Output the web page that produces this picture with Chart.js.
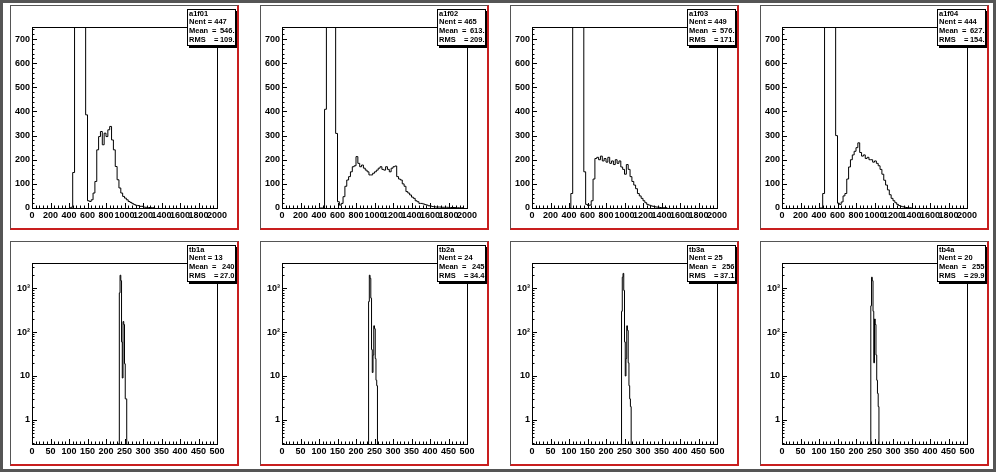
<!DOCTYPE html>
<html>
<head>
<meta charset="utf-8">
<script src="https://cdn.jsdelivr.net/npm/chart.js@4.4.1/dist/chart.umd.min.js"></script>
<style>
  html, body { margin: 0; padding: 0; background: #fff; }
  #outer { position: absolute; left: 0; top: 0; width: 996px; height: 472px; box-sizing: border-box; border: 3px solid #555; }
  .pad { position: absolute; width: 229px; height: 225px; }
  .pad canvas { position: absolute; left: 0; top: 0; }
  .pad .bevel { position: absolute; left: 0; top: 0; right: 0; bottom: 0; box-sizing: border-box;
    border-left: 1px solid #555; border-top: 1px solid #555;
    border-right: 2px solid #c81e1e; border-bottom: 2px solid #c81e1e; pointer-events: none; }
</style>
</head>
<body>
<div id="outer"></div>
<script>
// histogram stats (name, entries, mean, rms) as they are printed in the boxes
const topNames = ['a1f01', 'a1f02', 'a1f03', 'a1f04'];
const topEntries = ['447', '465', '449', '444'];
const topMeans = ['546.', '613.', '576.', '627.'];
const topRms = ['109.', '209.', '171.', '154.'];

const botNames = ['tb1a', 'tb2a', 'tb3a', 'tb4a'];
const botEntries = ['13', '24', '25', '20'];
const botMeans = ['240', '245', '256', '255'];
const botRms = ['27.0', '34.4', '37.1', '29.9'];

// top row: bins of 20 starting at 400
const topFirstEdge = 400;
const topBinWidth = 20;
const countsA1f01 = [0, 3, 147, 1800, 3000, 3000, 3000, 2600, 1200, 386,
  30, 27, 34, 62, 110, 241, 296, 317, 262, 310,
  296, 324, 338, 282, 241, 172, 117, 83, 62, 48,
  41, 34, 27, 23, 18, 14, 11, 10, 7, 7,
  4, 3, 2, 2, 1, 1];
const countsA1f02 = [0, 0, 0, 409, 3000, 3000, 3000, 3000, 3000, 309,
  26, 12, 19, 47, 90, 116, 130, 150, 171, 175,
  213, 185, 171, 178, 165, 157, 150, 137, 137, 144,
  150, 157, 165, 171, 160, 157, 171, 160, 150, 165,
  171, 174, 130, 120, 116, 100, 90, 68, 62, 54,
  45, 40, 30, 26, 19, 19, 17, 14, 12, 9,
  8, 6, 5, 4, 4, 4, 3, 3, 3, 3,
  2, 2, 2, 2, 1, 1, 1, 1];
const countsA1f03 = [0, 60, 2500, 3000, 3000, 3000, 3000, 2000, 150, 15,
  10, 12, 30, 120, 205, 210, 200, 215, 195, 205,
  190, 210, 185, 195, 180, 200, 185, 195, 170, 160,
  140, 180, 160, 130, 110, 95, 80, 60, 50, 40,
  30, 22, 15, 12, 9, 7, 5, 4, 3, 2,
  2, 1, 1];
const countsA1f04 = [0, 0, 60, 2500, 3000, 3000, 3000, 3000, 2000, 300,
  20, 15, 25, 50, 60, 120, 170, 200, 220, 235,
  250, 270, 230, 215, 220, 205, 210, 200, 200, 190,
  195, 185, 175, 160, 140, 115, 95, 75, 55, 40,
  30, 22, 15, 10, 7, 5, 3, 2, 1, 1];

// bottom row: bins of 2
const botBinWidth = 2;
const botFirstEdges = [230, 230, 240, 238];
const countsTb1a = [0, 0, 0, 790, 2000, 1500, 60, 9, 175, 150, 19, 3, 3];
const countsTb2a = [0, 0, 500, 2000, 1700, 600, 40, 12, 30, 140, 120, 25, 8, 6];
const countsTb3a = [0, 300, 1800, 2200, 900, 60, 10, 25, 140, 110, 20, 6, 3, 2];
const countsTb4a = [0, 400, 1800, 1500, 300, 20, 200, 150, 30, 8, 4, 2];

// axes
const topXTicks = [0, 200, 400, 600, 800, 1000, 1200, 1400, 1600, 1800, 2000];
const topYTicks = [0, 100, 200, 300, 400, 500, 600, 700];
const botXTicks = [0, 50, 100, 150, 200, 250, 300, 350, 400, 450, 500];
const botYTicks = [1, 10, 100, 1000];
const botYLabels = ['1', '10', '10\u00b2', '10\u00b3'];

const topCounts = [countsA1f01, countsA1f02, countsA1f03, countsA1f04];
const botCounts = [countsTb1a, countsTb2a, countsTb3a, countsTb4a];

Chart.defaults.font.family = "'Liberation Sans', Arial, sans-serif";
Chart.defaults.font.size = 9;
Chart.defaults.font.weight = 'bold';
Chart.defaults.color = '#000';

// outline of a histogram: rise at first edge, one step per bin, drop at last edge.
// empty bins sit on the floor of the axis (needed on log axes)
function histPoints(firstEdge, width, counts, floor) {
  const lvl = c => (c > 0 ? c : floor);
  const pts = [{x: firstEdge, y: floor}];
  counts.forEach((c, i) => pts.push({x: firstEdge + i * width, y: lvl(c)}));
  pts.push({x: firstEdge + counts.length * width, y: floor});
  return pts;
}

function onStep(v, step) {
  return Math.abs(v / step - Math.round(v / step)) < 1e-6;
}

// ROOT style frame, inward tick marks and the stats box
const rootDecor = {
  id: 'rootDecor',
  afterDraw(chart, args, o) {
    const ctx = chart.ctx;
    const a = chart.chartArea;
    const xs = chart.scales.x, ys = chart.scales.y;
    const snap = v => Math.round(v) + 0.5;
    ctx.save();
    ctx.strokeStyle = '#000';
    ctx.lineWidth = 1;
    ctx.beginPath();
    for (let v = xs.min; v <= xs.max + 1e-6; v += o.xMinor) {
      const px = snap(xs.getPixelForValue(v));
      ctx.moveTo(px, a.bottom);
      ctx.lineTo(px, a.bottom - (onStep(v, o.xMajor) ? 5 : 2.5));
    }
    if (o.logY) {
      const d0 = Math.floor(Math.log10(ys.min)), d1 = Math.ceil(Math.log10(ys.max));
      for (let d = d0; d <= d1; d++) {
        for (let k = 1; k <= 9; k++) {
          const v = k * Math.pow(10, d);
          if (v < ys.min || v > ys.max) continue;
          const py = snap(ys.getPixelForValue(v));
          ctx.moveTo(a.left, py);
          ctx.lineTo(a.left + (k === 1 ? 5 : 2.5), py);
        }
      }
    } else {
      for (let v = ys.min; v <= ys.max + 1e-6; v += o.yMinor) {
        const py = snap(ys.getPixelForValue(v));
        ctx.moveTo(a.left, py);
        ctx.lineTo(a.left + (onStep(v, o.yMajor) ? 5 : 2.5), py);
      }
    }
    ctx.stroke();
    ctx.strokeRect(Math.round(a.left) + 0.5, Math.round(a.top) + 0.5,
      Math.round(a.right - a.left), Math.round(a.bottom - a.top));

    // stats box with drop shadow
    const bx = 177, by = 4, bw = 49, bh = 37;
    ctx.fillStyle = '#000';
    ctx.fillRect(bx + 2, by + 2, bw, bh);
    ctx.fillStyle = '#fff';
    ctx.fillRect(bx, by, bw, bh);
    ctx.strokeRect(bx + 0.5, by + 0.5, bw - 1, bh - 1);
    ctx.beginPath();
    ctx.rect(bx + 1, by + 1, bw - 2, bh - 2);
    ctx.clip();
    ctx.fillStyle = '#000';
    ctx.font = "bold 7.5px 'Liberation Sans', Arial, sans-serif";
    ctx.textBaseline = 'middle';
    const lines = o.lines;
    ctx.textAlign = 'left';
    ctx.fillText(lines[0], bx + 2, by + 4.5);
    ctx.fillText('Nent = ' + lines[1], bx + 2, by + 13);
    ctx.fillText('Mean', bx + 2, by + 22);
    ctx.fillText('=', bx + 25, by + 22);
    ctx.fillText('RMS', bx + 2, by + 31);
    ctx.fillText('=', bx + 27, by + 31);
    ctx.textAlign = 'right';
    ctx.fillText(lines[2], bx + bw - 1.5, by + 22);
    ctx.fillText(lines[3], bx + bw - 1.5, by + 31);
    ctx.restore();
  }
};

function makePad(left, top, cfg) {
  const pad = document.createElement('div');
  pad.className = 'pad';
  pad.style.left = left + 'px';
  pad.style.top = top + 'px';
  const canvas = document.createElement('canvas');
  canvas.width = 229;
  canvas.height = 225;
  pad.appendChild(canvas);
  const bevel = document.createElement('div');
  bevel.className = 'bevel';
  pad.appendChild(bevel);
  document.body.appendChild(pad);

  new Chart(canvas, {
    type: 'line',
    data: {
      datasets: [{
        data: cfg.points,
        stepped: true,
        borderColor: '#000',
        borderWidth: 1,
        pointRadius: 0,
        fill: false
      }]
    },
    options: {
      responsive: false,
      animation: false,
      events: [],
      layout: { padding: { top: 22, right: 22, left: 0, bottom: 0 } },
      plugins: {
        legend: { display: false },
        tooltip: { enabled: false },
        rootDecor: cfg.decor
      },
      scales: {
        x: {
          type: 'linear',
          min: cfg.xMin,
          max: cfg.xMax,
          grid: { display: false, drawTicks: false },
          border: { display: false },
          ticks: {
            autoSkip: false, minRotation: 0, maxRotation: 0, padding: 2,
            callback: v => String(v)
          },
          afterBuildTicks: s => { s.ticks = cfg.xTicks.map(v => ({value: v})); },
          afterFit: s => { s.height = 22; s.paddingLeft = 0; s.paddingRight = 0; }
        },
        y: {
          type: cfg.logY ? 'logarithmic' : 'linear',
          min: cfg.yMin,
          max: cfg.yMax,
          grid: { display: false, drawTicks: false },
          border: { display: false },
          ticks: {
            autoSkip: false, padding: 2,
            callback: cfg.yLabel
          },
          afterBuildTicks: s => { s.ticks = cfg.yTicks.map(v => ({value: v})); },
          afterFit: s => { s.width = 22; s.paddingTop = 0; s.paddingBottom = 0; }
        }
      }
    },
    plugins: [rootDecor]
  });
}

const padLefts = [10, 260, 510, 760];
const topYMax = 750;
const botYMin = 0.28, botYMax = 3800;

padLefts.forEach((left, i) => {
  makePad(left, 5, {
    points: histPoints(topFirstEdge, topBinWidth, topCounts[i], 0),
    xMin: 0, xMax: 2000, yMin: 0, yMax: topYMax, logY: false,
    xTicks: topXTicks, yTicks: topYTicks,
    yLabel: v => String(v),
    decor: { xMajor: 200, xMinor: 40, yMajor: 100, yMinor: 20, logY: false,
      lines: [topNames[i], topEntries[i], topMeans[i], topRms[i]] }
  });
  makePad(left, 241, {
    points: histPoints(botFirstEdges[i], botBinWidth, botCounts[i], botYMin),
    xMin: 0, xMax: 500, yMin: botYMin, yMax: botYMax, logY: true,
    xTicks: botXTicks, yTicks: botYTicks,
    yLabel: v => botYLabels[botYTicks.indexOf(v)],
    decor: { xMajor: 50, xMinor: 10, logY: true,
      lines: [botNames[i], botEntries[i], botMeans[i], botRms[i]] }
  });
});
</script>
</body>
</html>
